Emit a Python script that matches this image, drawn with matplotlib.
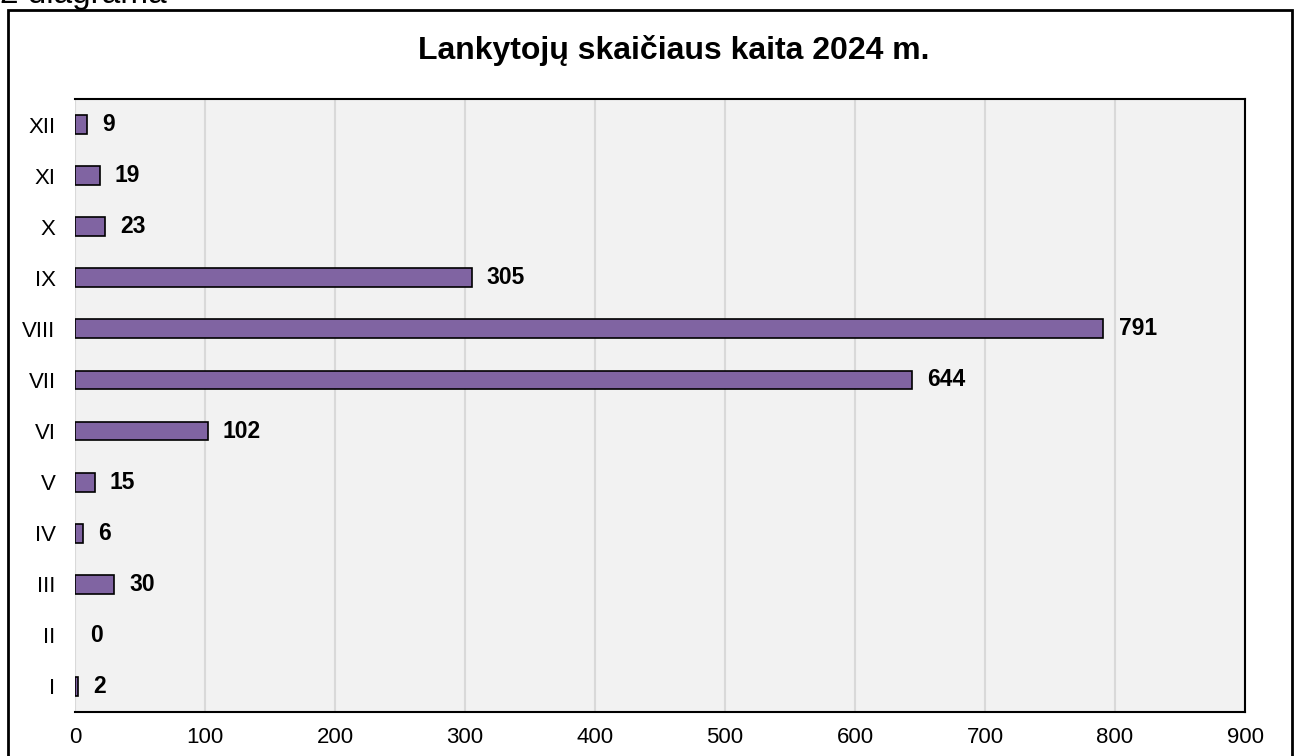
"""Lankytojų skaičiaus kaita 2024 m."""

import matplotlib
matplotlib.use("Agg")
from matplotlib import pyplot as plt
from matplotlib.patches import Rectangle

W, H = 1298, 756

months = ["I", "II", "III", "IV", "V", "VI", "VII", "VIII", "IX", "X", "XI", "XII"]
visitors = [2, 0, 30, 6, 15, 102, 644, 791, 305, 23, 19, 9]
xticks = [0, 100, 200, 300, 400, 500, 600, 700, 800, 900]

plt.rcParams["font.family"] = ["Liberation Sans", "DejaVu Sans"]

fig = plt.figure(figsize=(W / 100, H / 100), dpi=100)
ax = fig.add_axes([75 / W, 1 - 712 / H, (1245 - 75) / W, (712 - 99) / H])
ax.set_facecolor("#f2f2f2")

# no outline on empty bars (Excel draws nothing for 0)
edge_w = [1.2 if v > 0 else 0 for v in visitors]
ax.barh(months, visitors, height=0.37, color="#8064a2",
        edgecolor="black", linewidth=edge_w, zorder=3)
for i, v in enumerate(visitors):
    ax.annotate(str(v), (v, i), xytext=(11, 0), textcoords="offset points",
                ha="left", va="center", fontsize=16.5, fontweight="bold")

ax.set_xlim(0, 900)
ax.set_ylim(-0.5, len(months) - 0.5)
ax.set_xticks(xticks)
ax.grid(axis="x", color="#d9d9d9", lw=1.5, zorder=0)
ax.tick_params(length=0, labelsize=16)
ax.tick_params(axis="x", pad=11)
ax.tick_params(axis="y", pad=14)
for side in ("top", "right", "bottom"):
    ax.spines[side].set_linewidth(1.5)
ax.spines["left"].set_visible(False)

fig.suptitle("Lankytojų skaičiaus kaita 2024 m.", x=674 / W, y=1 - 50 / H,
             va="center", fontsize=23, fontweight="bold")
fig.text(0, 1 - 3 / H, "2 diagrama", fontsize=24, va="baseline", ha="left")
fig.patches.append(Rectangle((8 / W, -0.05), (1292 - 8) / W, 1.05 - 10 / H,
                             transform=fig.transFigure, fill=False,
                             edgecolor="black", lw=2))

fig.savefig("out.png", dpi=100)
